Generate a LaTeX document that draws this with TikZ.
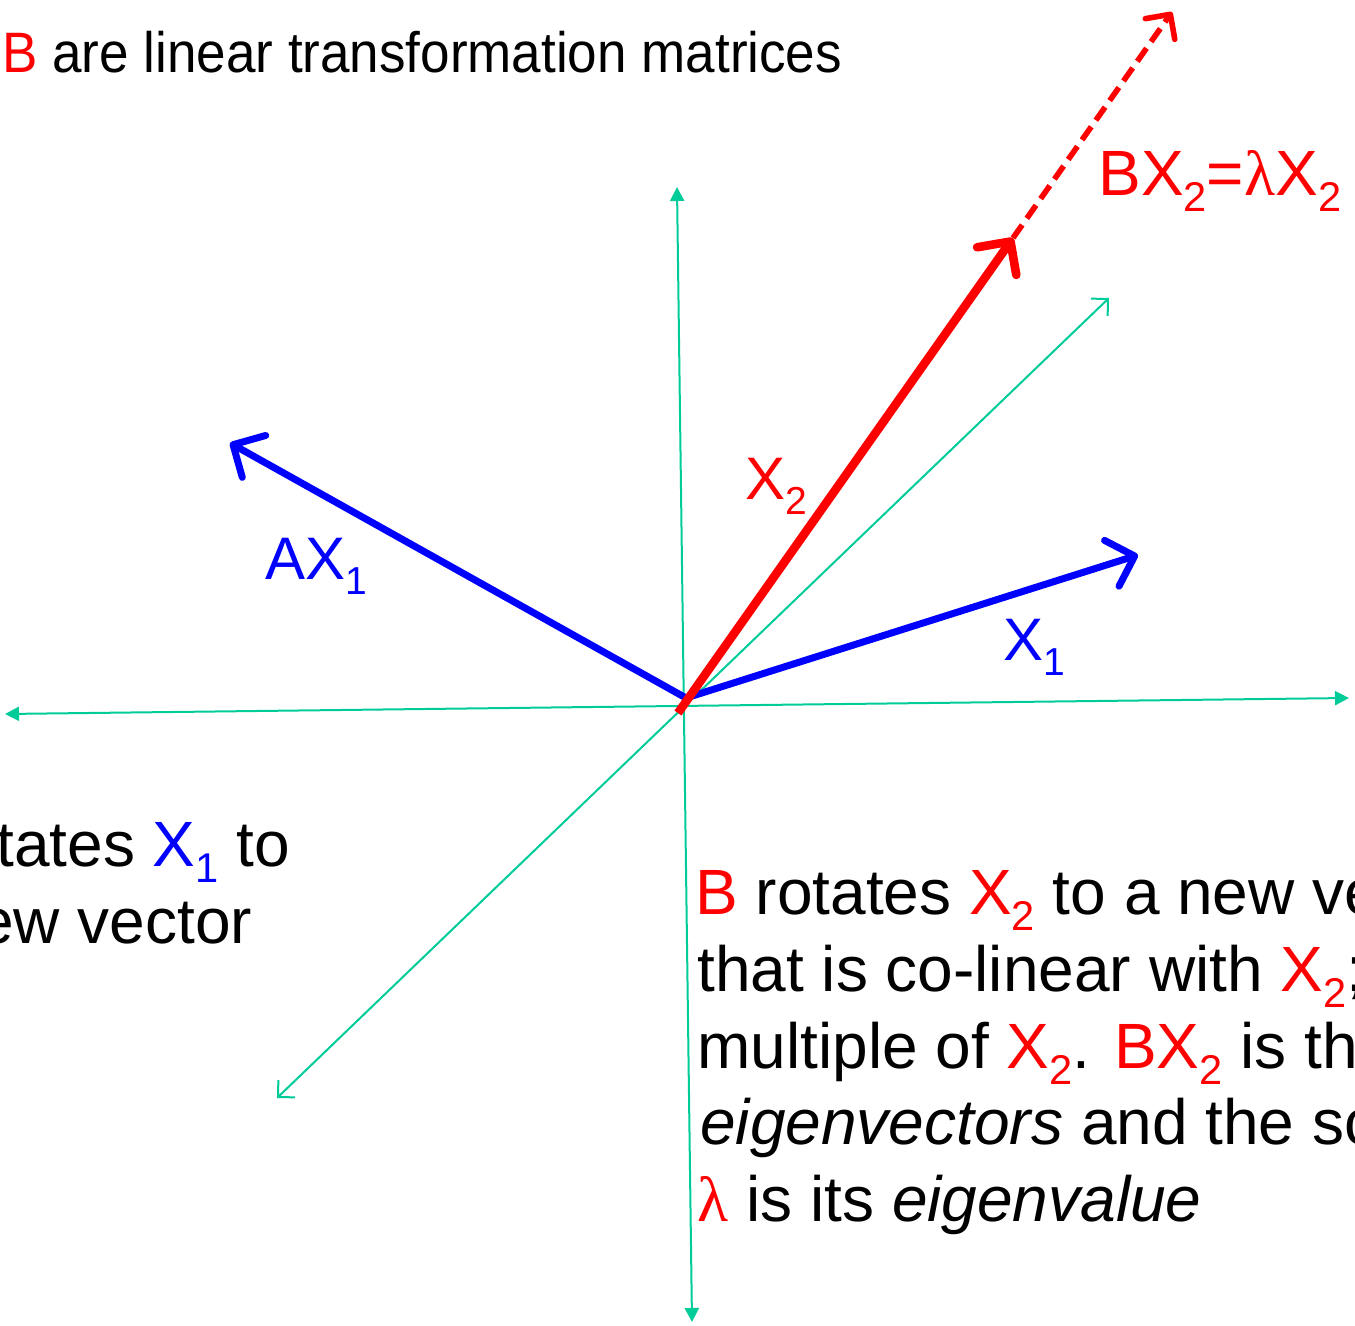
\documentclass[tikz,border=0pt]{standalone}
\usepackage{fontspec}
\usepackage{graphicx}
\setmainfont{Liberation Sans}
\newfontfamily\lamfont{Liberation Serif}
\usetikzlibrary{arrows.meta}
\definecolor{axisgreen}{RGB}{0,204,153}
\definecolor{vred}{RGB}{255,0,0}
\definecolor{vblue}{RGB}{0,0,255}
\newcommand{\subsc}[1]{\raisebox{-0.25em}{\scalebox{0.65}{#1}}}
\newcommand{\lam}{{\lamfont λ}}
\begin{document}
\begin{tikzpicture}[x=0.5pt,y=-0.5pt,
  axisline/.style={draw=axisgreen,line width=1pt},
  filledtips/.style={{Triangle[length=7pt,width=7pt]}-{Triangle[length=7pt,width=7pt]}},
  opentips/.style={{Straight Barb[length=6pt,width=12pt]}-{Straight Barb[length=6pt,width=12pt]}},
  vecarrow/.style={line width=3.5pt,-{Straight Barb[length=12pt,width=24pt,line cap=round,line join=round]}},
  lbl/.style={inner sep=0pt,anchor=base west,font=\fontsize{30pt}{36pt}\selectfont},
  biglbl/.style={inner sep=0pt,anchor=base west,font=\fontsize{32pt}{38pt}\selectfont},
  toplbl/.style={inner sep=0pt,anchor=base west,font=\fontsize{28.5pt}{34pt}\selectfont}]
\useasboundingbox (0,0) rectangle (1355,1326);
\clip (0,0) rectangle (1355,1326);
\fill[white] (0,0) rectangle (1355,1326);
% axes
\coordinate (hl) at (5,714);
\coordinate (hr) at (1349,698);
\coordinate (vt) at (677,187);
\coordinate (vb) at (692,1322);
\coordinate (dt) at (1109,298);
\coordinate (db) at (277,1098);
\draw[axisline,filledtips] (hl) -- (hr);
\draw[axisline,filledtips] (vt) -- (vb);
\draw[axisline,opentips] (db) -- (dt);
% vectors
\coordinate (O) at (686,698);
\coordinate (AXtip) at (230,443);
\coordinate (X1tip) at (1138,555);
\coordinate (X2base) at (678,713);
\coordinate (X2tip) at (1013,238);
\coordinate (BXtip) at (1172,12);
\draw[vecarrow,draw=vblue] (O) -- (AXtip);
\draw[vecarrow,draw=vblue] (O) -- (X1tip);
\draw[draw=vred,line width=2.8pt,dash pattern=on 8pt off 4pt,-{Straight Barb[length=9pt,width=18pt,line cap=round,line join=round]}] (X2tip) -- (BXtip);
\draw[vecarrow,draw=vred,line width=4.3pt] (X2base) -- (X2tip);
% labels
\node[lbl,text=vred] (lX2) at (745,500) {X\subsc{2}};
\node[lbl,text=vblue] (lAX) at (265,580) {AX\subsc{1}};
\node[lbl,text=vblue] (lX1) at (1003,660) {X\subsc{1}};
\node[biglbl,text=vred] (lBX) at (1098,196) {BX\subsc{2}=\lam X\subsc{2}};
\node[toplbl] (top) at (2,73) {\scalebox{0.93}[1]{\textcolor{vred}{B} are linear transformation matrices}};
\node[biglbl] (left1) at (-4,866) {tates \textcolor{vblue}{X\subsc{1}} to};
\node[biglbl] (left2) at (-22,943) {ew vector};
\node[biglbl] (r1) at (695,914) {\textcolor{vred}{B} rotates \textcolor{vred}{X\subsc{2}} to a new ve};
\node[biglbl] (r2) at (697,991) {that is co-linear with \textcolor{vred}{X\subsc{2}};};
\node[biglbl] (r3) at (697,1068) {multiple of \textcolor{vred}{X\subsc{2}}. \textcolor{vred}{BX\subsc{2}} is the};
\node[biglbl] (r4) at (700,1144) {\textit{eigenvectors} and the sc};
\node[biglbl] (r5) at (697,1221) {\textcolor{vred}{\lam} is its \textit{eigenvalue}};
\end{tikzpicture}
\end{document}
